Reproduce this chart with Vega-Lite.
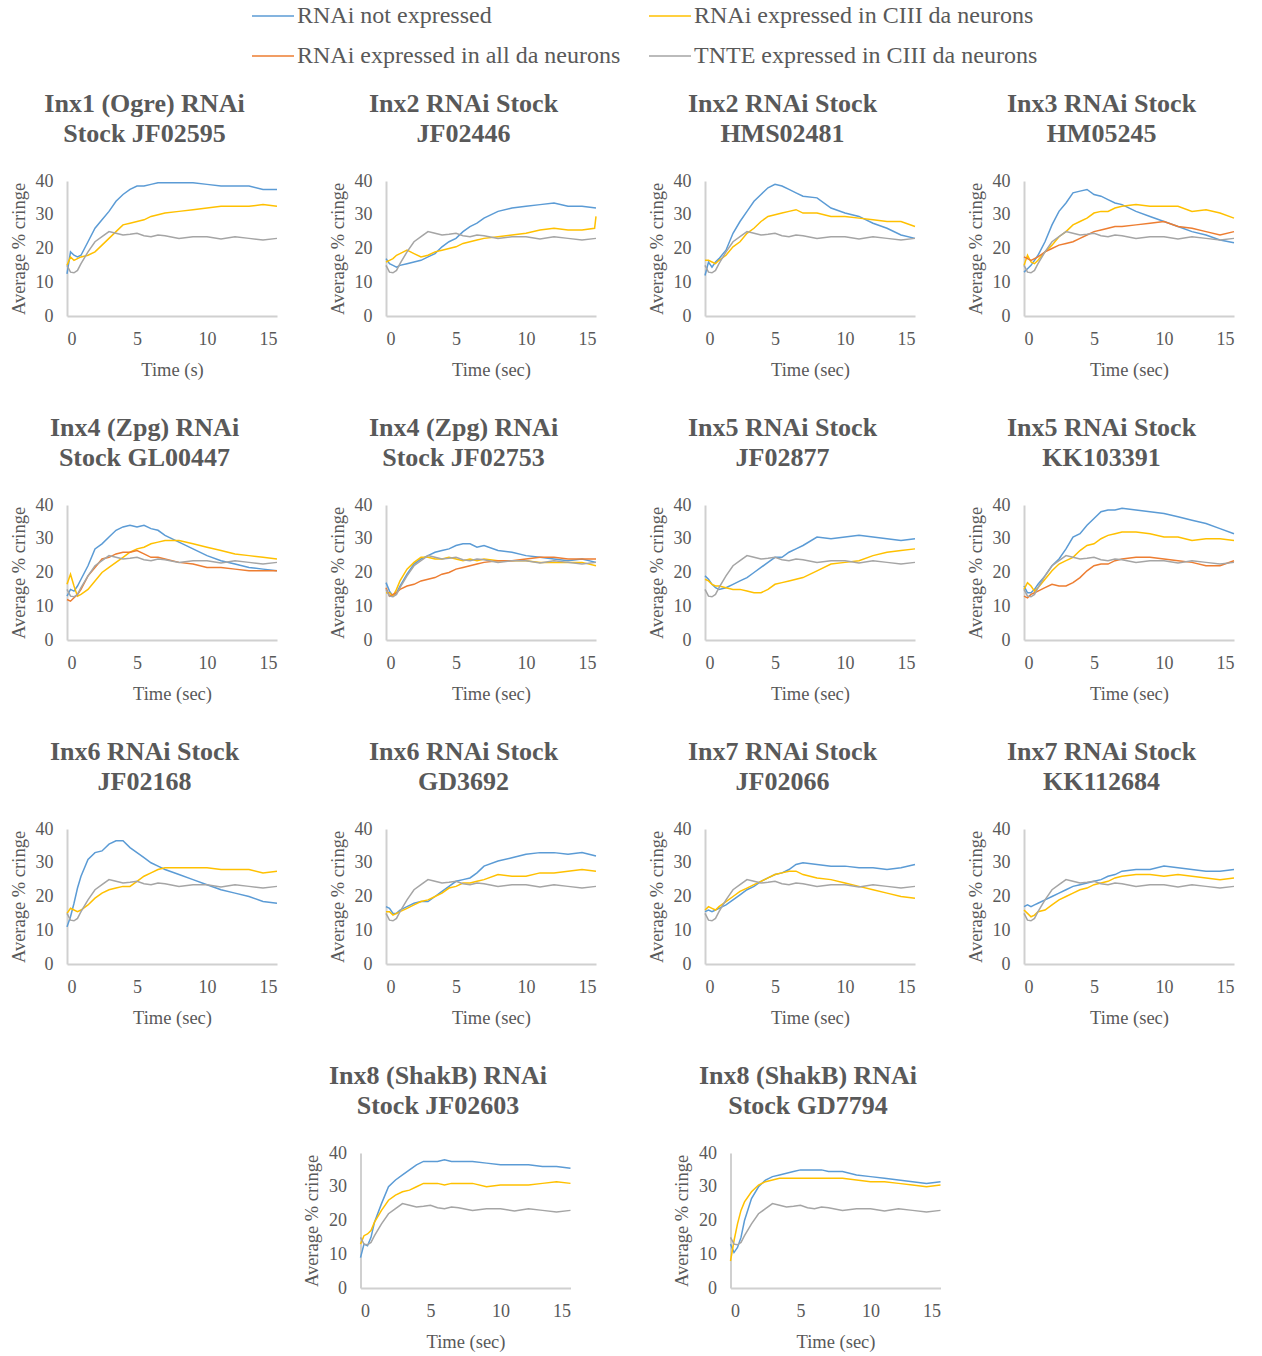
{
"$schema":"https://vega.github.io/schema/vega-lite/v6.json",
"padding":{"left":8,"top":-6,"right":5,"bottom":5},
"background":"white",
"datasets":{
"tnte":[
{"s":"g","t":0,"v":15},{"s":"g","t":0.25,"v":13},{"s":"g","t":0.5,"v":12.8},{"s":"g","t":0.75,"v":13.5},{"s":"g","t":1,"v":15.5},{"s":"g","t":1.5,"v":19},{"s":"g","t":2,"v":22},{"s":"g","t":2.5,"v":23.5},{"s":"g","t":3,"v":25},{"s":"g","t":3.5,"v":24.5},{"s":"g","t":4,"v":24},{"s":"g","t":4.5,"v":24.2},{"s":"g","t":5,"v":24.5},{"s":"g","t":5.5,"v":23.8},{"s":"g","t":6,"v":23.5},{"s":"g","t":6.5,"v":24},{"s":"g","t":7,"v":23.8},{"s":"g","t":8,"v":23},{"s":"g","t":9,"v":23.5},{"s":"g","t":10,"v":23.5},{"s":"g","t":11,"v":22.8},{"s":"g","t":12,"v":23.5},{"s":"g","t":13,"v":23},{"s":"g","t":14,"v":22.5},{"s":"g","t":15,"v":23}
],
"main":[
{"p":1,"s":"b","t":0,"v":12.5},{"p":1,"s":"b","t":0.25,"v":19},{"p":1,"s":"b","t":0.5,"v":18},{"p":1,"s":"b","t":0.75,"v":17.5},{"p":1,"s":"b","t":1,"v":18},{"p":1,"s":"b","t":1.5,"v":22},{"p":1,"s":"b","t":2,"v":26},{"p":1,"s":"b","t":2.5,"v":28.5},{"p":1,"s":"b","t":3,"v":31},{"p":1,"s":"b","t":3.5,"v":34},{"p":1,"s":"b","t":4,"v":36},{"p":1,"s":"b","t":4.5,"v":37.5},{"p":1,"s":"b","t":5,"v":38.5},{"p":1,"s":"b","t":5.5,"v":38.5},{"p":1,"s":"b","t":6,"v":39},{"p":1,"s":"b","t":6.5,"v":39.5},{"p":1,"s":"b","t":7,"v":39.5},{"p":1,"s":"b","t":8,"v":39.5},{"p":1,"s":"b","t":9,"v":39.5},{"p":1,"s":"b","t":10,"v":39},{"p":1,"s":"b","t":11,"v":38.5},{"p":1,"s":"b","t":12,"v":38.5},{"p":1,"s":"b","t":13,"v":38.5},{"p":1,"s":"b","t":14,"v":37.5},{"p":1,"s":"b","t":15,"v":37.5},
{"p":1,"s":"y","t":0,"v":15},{"p":1,"s":"y","t":0.25,"v":17.5},{"p":1,"s":"y","t":0.5,"v":16.5},{"p":1,"s":"y","t":0.75,"v":17},{"p":1,"s":"y","t":1,"v":17.5},{"p":1,"s":"y","t":1.5,"v":18},{"p":1,"s":"y","t":2,"v":19},{"p":1,"s":"y","t":2.5,"v":21},{"p":1,"s":"y","t":3,"v":23},{"p":1,"s":"y","t":3.5,"v":25},{"p":1,"s":"y","t":4,"v":27},{"p":1,"s":"y","t":4.5,"v":27.5},{"p":1,"s":"y","t":5,"v":28},{"p":1,"s":"y","t":5.5,"v":28.5},{"p":1,"s":"y","t":6,"v":29.5},{"p":1,"s":"y","t":6.5,"v":30},{"p":1,"s":"y","t":7,"v":30.5},{"p":1,"s":"y","t":8,"v":31},{"p":1,"s":"y","t":9,"v":31.5},{"p":1,"s":"y","t":10,"v":32},{"p":1,"s":"y","t":11,"v":32.5},{"p":1,"s":"y","t":12,"v":32.5},{"p":1,"s":"y","t":13,"v":32.5},{"p":1,"s":"y","t":14,"v":33},{"p":1,"s":"y","t":15,"v":32.5},
{"p":2,"s":"b","t":0,"v":17},{"p":2,"s":"b","t":0.25,"v":15.5},{"p":2,"s":"b","t":0.5,"v":15},{"p":2,"s":"b","t":0.75,"v":14.5},{"p":2,"s":"b","t":1,"v":15},{"p":2,"s":"b","t":1.5,"v":15.5},{"p":2,"s":"b","t":2,"v":16},{"p":2,"s":"b","t":2.5,"v":16.5},{"p":2,"s":"b","t":3,"v":17.5},{"p":2,"s":"b","t":3.5,"v":18.5},{"p":2,"s":"b","t":4,"v":20.5},{"p":2,"s":"b","t":4.5,"v":22},{"p":2,"s":"b","t":5,"v":23},{"p":2,"s":"b","t":5.5,"v":25},{"p":2,"s":"b","t":6,"v":26.5},{"p":2,"s":"b","t":6.5,"v":27.5},{"p":2,"s":"b","t":7,"v":29},{"p":2,"s":"b","t":8,"v":31},{"p":2,"s":"b","t":9,"v":32},{"p":2,"s":"b","t":10,"v":32.5},{"p":2,"s":"b","t":11,"v":33},{"p":2,"s":"b","t":12,"v":33.5},{"p":2,"s":"b","t":13,"v":32.5},{"p":2,"s":"b","t":14,"v":32.5},{"p":2,"s":"b","t":15,"v":32},
{"p":2,"s":"y","t":0,"v":16},{"p":2,"s":"y","t":0.25,"v":16.5},{"p":2,"s":"y","t":0.5,"v":17},{"p":2,"s":"y","t":0.75,"v":18},{"p":2,"s":"y","t":1,"v":18.5},{"p":2,"s":"y","t":1.5,"v":19.5},{"p":2,"s":"y","t":2,"v":18.5},{"p":2,"s":"y","t":2.5,"v":17.5},{"p":2,"s":"y","t":3,"v":18},{"p":2,"s":"y","t":3.5,"v":19},{"p":2,"s":"y","t":4,"v":19.5},{"p":2,"s":"y","t":4.5,"v":20},{"p":2,"s":"y","t":5,"v":20.5},{"p":2,"s":"y","t":5.5,"v":21.5},{"p":2,"s":"y","t":6,"v":22},{"p":2,"s":"y","t":6.5,"v":22.5},{"p":2,"s":"y","t":7,"v":23},{"p":2,"s":"y","t":8,"v":23.5},{"p":2,"s":"y","t":9,"v":24},{"p":2,"s":"y","t":10,"v":24.5},{"p":2,"s":"y","t":11,"v":25.5},{"p":2,"s":"y","t":12,"v":26},{"p":2,"s":"y","t":13,"v":25.5},{"p":2,"s":"y","t":14,"v":25.5},{"p":2,"s":"y","t":14.9,"v":26},{"p":2,"s":"y","t":15,"v":29.5},
{"p":3,"s":"b","t":0,"v":12},{"p":3,"s":"b","t":0.25,"v":16},{"p":3,"s":"b","t":0.5,"v":14.5},{"p":3,"s":"b","t":0.75,"v":16},{"p":3,"s":"b","t":1,"v":17},{"p":3,"s":"b","t":1.5,"v":19.5},{"p":3,"s":"b","t":2,"v":24.5},{"p":3,"s":"b","t":2.5,"v":28},{"p":3,"s":"b","t":3,"v":31},{"p":3,"s":"b","t":3.5,"v":34},{"p":3,"s":"b","t":4,"v":36},{"p":3,"s":"b","t":4.5,"v":38},{"p":3,"s":"b","t":5,"v":39},{"p":3,"s":"b","t":5.5,"v":38.5},{"p":3,"s":"b","t":6,"v":37.5},{"p":3,"s":"b","t":6.5,"v":36.5},{"p":3,"s":"b","t":7,"v":35.5},{"p":3,"s":"b","t":8,"v":35},{"p":3,"s":"b","t":9,"v":32},{"p":3,"s":"b","t":10,"v":30.5},{"p":3,"s":"b","t":11,"v":29.5},{"p":3,"s":"b","t":12,"v":27.5},{"p":3,"s":"b","t":13,"v":26},{"p":3,"s":"b","t":14,"v":24},{"p":3,"s":"b","t":15,"v":23},
{"p":3,"s":"y","t":0,"v":16.5},{"p":3,"s":"y","t":0.25,"v":16.5},{"p":3,"s":"y","t":0.5,"v":16},{"p":3,"s":"y","t":0.75,"v":15.5},{"p":3,"s":"y","t":1,"v":16.5},{"p":3,"s":"y","t":1.5,"v":18},{"p":3,"s":"y","t":2,"v":20.5},{"p":3,"s":"y","t":2.5,"v":22},{"p":3,"s":"y","t":3,"v":24.5},{"p":3,"s":"y","t":3.5,"v":26},{"p":3,"s":"y","t":4,"v":28},{"p":3,"s":"y","t":4.5,"v":29.5},{"p":3,"s":"y","t":5,"v":30},{"p":3,"s":"y","t":5.5,"v":30.5},{"p":3,"s":"y","t":6,"v":31},{"p":3,"s":"y","t":6.5,"v":31.5},{"p":3,"s":"y","t":7,"v":30.5},{"p":3,"s":"y","t":8,"v":30.5},{"p":3,"s":"y","t":9,"v":29.5},{"p":3,"s":"y","t":10,"v":29.5},{"p":3,"s":"y","t":11,"v":29},{"p":3,"s":"y","t":12,"v":28.5},{"p":3,"s":"y","t":13,"v":28},{"p":3,"s":"y","t":14,"v":28},{"p":3,"s":"y","t":15,"v":26.5},
{"p":4,"s":"b","t":0,"v":13},{"p":4,"s":"b","t":0.25,"v":14},{"p":4,"s":"b","t":0.5,"v":15},{"p":4,"s":"b","t":0.75,"v":16.5},{"p":4,"s":"b","t":1,"v":18},{"p":4,"s":"b","t":1.5,"v":22},{"p":4,"s":"b","t":2,"v":27},{"p":4,"s":"b","t":2.5,"v":31},{"p":4,"s":"b","t":3,"v":33.5},{"p":4,"s":"b","t":3.5,"v":36.5},{"p":4,"s":"b","t":4,"v":37},{"p":4,"s":"b","t":4.5,"v":37.5},{"p":4,"s":"b","t":5,"v":36},{"p":4,"s":"b","t":5.5,"v":35.5},{"p":4,"s":"b","t":6,"v":34.5},{"p":4,"s":"b","t":6.5,"v":33.5},{"p":4,"s":"b","t":7,"v":33},{"p":4,"s":"b","t":8,"v":31},{"p":4,"s":"b","t":9,"v":29.5},{"p":4,"s":"b","t":10,"v":28},{"p":4,"s":"b","t":11,"v":26.5},{"p":4,"s":"b","t":12,"v":25},{"p":4,"s":"b","t":13,"v":24},{"p":4,"s":"b","t":14,"v":22.5},{"p":4,"s":"b","t":15,"v":21.7},
{"p":4,"s":"y","t":0,"v":15},{"p":4,"s":"y","t":0.25,"v":18},{"p":4,"s":"y","t":0.5,"v":16},{"p":4,"s":"y","t":0.75,"v":15.5},{"p":4,"s":"y","t":1,"v":16.5},{"p":4,"s":"y","t":1.5,"v":19},{"p":4,"s":"y","t":2,"v":21},{"p":4,"s":"y","t":2.5,"v":23.5},{"p":4,"s":"y","t":3,"v":25},{"p":4,"s":"y","t":3.5,"v":27},{"p":4,"s":"y","t":4,"v":28},{"p":4,"s":"y","t":4.5,"v":29},{"p":4,"s":"y","t":5,"v":30.5},{"p":4,"s":"y","t":5.5,"v":31},{"p":4,"s":"y","t":6,"v":31},{"p":4,"s":"y","t":6.5,"v":32},{"p":4,"s":"y","t":7,"v":32.5},{"p":4,"s":"y","t":8,"v":33},{"p":4,"s":"y","t":9,"v":32.5},{"p":4,"s":"y","t":10,"v":32.5},{"p":4,"s":"y","t":11,"v":32.5},{"p":4,"s":"y","t":12,"v":31},{"p":4,"s":"y","t":13,"v":31.5},{"p":4,"s":"y","t":14,"v":30.5},{"p":4,"s":"y","t":15,"v":29},
{"p":4,"s":"o","t":0,"v":17.5},{"p":4,"s":"o","t":0.25,"v":17},{"p":4,"s":"o","t":0.5,"v":16.5},{"p":4,"s":"o","t":0.75,"v":17},{"p":4,"s":"o","t":1,"v":17.5},{"p":4,"s":"o","t":1.5,"v":19},{"p":4,"s":"o","t":2,"v":20},{"p":4,"s":"o","t":2.5,"v":21},{"p":4,"s":"o","t":3,"v":21.5},{"p":4,"s":"o","t":3.5,"v":22},{"p":4,"s":"o","t":4,"v":23},{"p":4,"s":"o","t":4.5,"v":24},{"p":4,"s":"o","t":5,"v":25},{"p":4,"s":"o","t":5.5,"v":25.5},{"p":4,"s":"o","t":6,"v":26},{"p":4,"s":"o","t":6.5,"v":26.5},{"p":4,"s":"o","t":7,"v":26.5},{"p":4,"s":"o","t":8,"v":27},{"p":4,"s":"o","t":9,"v":27.5},{"p":4,"s":"o","t":10,"v":28},{"p":4,"s":"o","t":11,"v":26.5},{"p":4,"s":"o","t":12,"v":26},{"p":4,"s":"o","t":13,"v":25},{"p":4,"s":"o","t":14,"v":24},{"p":4,"s":"o","t":15,"v":25},
{"p":5,"s":"b","t":0,"v":13},{"p":5,"s":"b","t":0.25,"v":15},{"p":5,"s":"b","t":0.5,"v":14.5},{"p":5,"s":"b","t":0.75,"v":16},{"p":5,"s":"b","t":1,"v":18},{"p":5,"s":"b","t":1.5,"v":22},{"p":5,"s":"b","t":2,"v":27},{"p":5,"s":"b","t":2.5,"v":28.5},{"p":5,"s":"b","t":3,"v":30.5},{"p":5,"s":"b","t":3.5,"v":32.5},{"p":5,"s":"b","t":4,"v":33.5},{"p":5,"s":"b","t":4.5,"v":34},{"p":5,"s":"b","t":5,"v":33.5},{"p":5,"s":"b","t":5.5,"v":34},{"p":5,"s":"b","t":6,"v":33},{"p":5,"s":"b","t":6.5,"v":32.5},{"p":5,"s":"b","t":7,"v":31},{"p":5,"s":"b","t":8,"v":29},{"p":5,"s":"b","t":9,"v":27},{"p":5,"s":"b","t":10,"v":25},{"p":5,"s":"b","t":11,"v":23.5},{"p":5,"s":"b","t":12,"v":22.5},{"p":5,"s":"b","t":13,"v":21.5},{"p":5,"s":"b","t":14,"v":21},{"p":5,"s":"b","t":15,"v":20.5},
{"p":5,"s":"y","t":0,"v":16.5},{"p":5,"s":"y","t":0.25,"v":19.5},{"p":5,"s":"y","t":0.5,"v":16},{"p":5,"s":"y","t":0.75,"v":13},{"p":5,"s":"y","t":1,"v":13.5},{"p":5,"s":"y","t":1.5,"v":15},{"p":5,"s":"y","t":2,"v":17.5},{"p":5,"s":"y","t":2.5,"v":20},{"p":5,"s":"y","t":3,"v":21.5},{"p":5,"s":"y","t":3.5,"v":23},{"p":5,"s":"y","t":4,"v":24.5},{"p":5,"s":"y","t":4.5,"v":26},{"p":5,"s":"y","t":5,"v":27},{"p":5,"s":"y","t":5.5,"v":27.5},{"p":5,"s":"y","t":6,"v":28.5},{"p":5,"s":"y","t":6.5,"v":29},{"p":5,"s":"y","t":7,"v":29.5},{"p":5,"s":"y","t":8,"v":29.5},{"p":5,"s":"y","t":9,"v":28.5},{"p":5,"s":"y","t":10,"v":27.5},{"p":5,"s":"y","t":11,"v":26.5},{"p":5,"s":"y","t":12,"v":25.5},{"p":5,"s":"y","t":13,"v":25},{"p":5,"s":"y","t":14,"v":24.5},{"p":5,"s":"y","t":15,"v":24},
{"p":5,"s":"o","t":0,"v":12},{"p":5,"s":"o","t":0.25,"v":11.5},{"p":5,"s":"o","t":0.5,"v":12.5},{"p":5,"s":"o","t":0.75,"v":13.5},{"p":5,"s":"o","t":1,"v":15},{"p":5,"s":"o","t":1.5,"v":19},{"p":5,"s":"o","t":2,"v":21.5},{"p":5,"s":"o","t":2.5,"v":24},{"p":5,"s":"o","t":3,"v":24.5},{"p":5,"s":"o","t":3.5,"v":25.5},{"p":5,"s":"o","t":4,"v":26},{"p":5,"s":"o","t":4.5,"v":26},{"p":5,"s":"o","t":5,"v":26.5},{"p":5,"s":"o","t":5.5,"v":25.5},{"p":5,"s":"o","t":6,"v":24.5},{"p":5,"s":"o","t":6.5,"v":24.5},{"p":5,"s":"o","t":7,"v":24},{"p":5,"s":"o","t":8,"v":23},{"p":5,"s":"o","t":9,"v":22.5},{"p":5,"s":"o","t":10,"v":21.5},{"p":5,"s":"o","t":11,"v":21.5},{"p":5,"s":"o","t":12,"v":21},{"p":5,"s":"o","t":13,"v":20.5},{"p":5,"s":"o","t":14,"v":20.5},{"p":5,"s":"o","t":15,"v":20.5},
{"p":6,"s":"b","t":0,"v":17},{"p":6,"s":"b","t":0.25,"v":14.5},{"p":6,"s":"b","t":0.5,"v":13},{"p":6,"s":"b","t":0.75,"v":14},{"p":6,"s":"b","t":1,"v":16},{"p":6,"s":"b","t":1.5,"v":19.5},{"p":6,"s":"b","t":2,"v":22.5},{"p":6,"s":"b","t":2.5,"v":24},{"p":6,"s":"b","t":3,"v":25},{"p":6,"s":"b","t":3.5,"v":26},{"p":6,"s":"b","t":4,"v":26.5},{"p":6,"s":"b","t":4.5,"v":27},{"p":6,"s":"b","t":5,"v":28},{"p":6,"s":"b","t":5.5,"v":28.5},{"p":6,"s":"b","t":6,"v":28.5},{"p":6,"s":"b","t":6.5,"v":27.5},{"p":6,"s":"b","t":7,"v":28},{"p":6,"s":"b","t":8,"v":26.5},{"p":6,"s":"b","t":9,"v":26},{"p":6,"s":"b","t":10,"v":25},{"p":6,"s":"b","t":11,"v":24.5},{"p":6,"s":"b","t":12,"v":24},{"p":6,"s":"b","t":13,"v":23.5},{"p":6,"s":"b","t":14,"v":24},{"p":6,"s":"b","t":15,"v":23},
{"p":6,"s":"y","t":0,"v":14},{"p":6,"s":"y","t":0.25,"v":14},{"p":6,"s":"y","t":0.5,"v":13},{"p":6,"s":"y","t":0.75,"v":15},{"p":6,"s":"y","t":1,"v":17.5},{"p":6,"s":"y","t":1.5,"v":21},{"p":6,"s":"y","t":2,"v":23},{"p":6,"s":"y","t":2.5,"v":24.5},{"p":6,"s":"y","t":3,"v":24.5},{"p":6,"s":"y","t":3.5,"v":24},{"p":6,"s":"y","t":4,"v":24},{"p":6,"s":"y","t":4.5,"v":24.5},{"p":6,"s":"y","t":5,"v":24},{"p":6,"s":"y","t":5.5,"v":23.5},{"p":6,"s":"y","t":6,"v":24},{"p":6,"s":"y","t":6.5,"v":23.5},{"p":6,"s":"y","t":7,"v":24},{"p":6,"s":"y","t":8,"v":23.5},{"p":6,"s":"y","t":9,"v":23.5},{"p":6,"s":"y","t":10,"v":23.5},{"p":6,"s":"y","t":11,"v":23},{"p":6,"s":"y","t":12,"v":23},{"p":6,"s":"y","t":13,"v":23},{"p":6,"s":"y","t":14,"v":23},{"p":6,"s":"y","t":15,"v":22},
{"p":6,"s":"o","t":0,"v":15.5},{"p":6,"s":"o","t":0.25,"v":13},{"p":6,"s":"o","t":0.5,"v":13.5},{"p":6,"s":"o","t":0.75,"v":14},{"p":6,"s":"o","t":1,"v":15},{"p":6,"s":"o","t":1.5,"v":16},{"p":6,"s":"o","t":2,"v":16.5},{"p":6,"s":"o","t":2.5,"v":17.5},{"p":6,"s":"o","t":3,"v":18},{"p":6,"s":"o","t":3.5,"v":18.5},{"p":6,"s":"o","t":4,"v":19.5},{"p":6,"s":"o","t":4.5,"v":20},{"p":6,"s":"o","t":5,"v":21},{"p":6,"s":"o","t":5.5,"v":21.5},{"p":6,"s":"o","t":6,"v":22},{"p":6,"s":"o","t":6.5,"v":22.5},{"p":6,"s":"o","t":7,"v":23},{"p":6,"s":"o","t":8,"v":23.5},{"p":6,"s":"o","t":9,"v":23.5},{"p":6,"s":"o","t":10,"v":24},{"p":6,"s":"o","t":11,"v":24.5},{"p":6,"s":"o","t":12,"v":24.5},{"p":6,"s":"o","t":13,"v":24},{"p":6,"s":"o","t":14,"v":24},{"p":6,"s":"o","t":15,"v":24},
{"p":7,"s":"b","t":0,"v":19},{"p":7,"s":"b","t":0.25,"v":18},{"p":7,"s":"b","t":0.5,"v":16.5},{"p":7,"s":"b","t":0.75,"v":15.5},{"p":7,"s":"b","t":1,"v":15},{"p":7,"s":"b","t":1.5,"v":15.5},{"p":7,"s":"b","t":2,"v":16.5},{"p":7,"s":"b","t":2.5,"v":17.5},{"p":7,"s":"b","t":3,"v":18.5},{"p":7,"s":"b","t":3.5,"v":20},{"p":7,"s":"b","t":4,"v":21.5},{"p":7,"s":"b","t":4.5,"v":23},{"p":7,"s":"b","t":5,"v":24.5},{"p":7,"s":"b","t":5.5,"v":24.5},{"p":7,"s":"b","t":6,"v":26},{"p":7,"s":"b","t":6.5,"v":27},{"p":7,"s":"b","t":7,"v":28},{"p":7,"s":"b","t":8,"v":30.5},{"p":7,"s":"b","t":9,"v":30},{"p":7,"s":"b","t":10,"v":30.5},{"p":7,"s":"b","t":11,"v":31},{"p":7,"s":"b","t":12,"v":30.5},{"p":7,"s":"b","t":13,"v":30},{"p":7,"s":"b","t":14,"v":29.5},{"p":7,"s":"b","t":15,"v":30},
{"p":7,"s":"y","t":0,"v":18},{"p":7,"s":"y","t":0.25,"v":17.5},{"p":7,"s":"y","t":0.5,"v":16.5},{"p":7,"s":"y","t":0.75,"v":16},{"p":7,"s":"y","t":1,"v":16},{"p":7,"s":"y","t":1.5,"v":15.5},{"p":7,"s":"y","t":2,"v":15},{"p":7,"s":"y","t":2.5,"v":15},{"p":7,"s":"y","t":3,"v":14.5},{"p":7,"s":"y","t":3.5,"v":14},{"p":7,"s":"y","t":4,"v":14},{"p":7,"s":"y","t":4.5,"v":15},{"p":7,"s":"y","t":5,"v":16.5},{"p":7,"s":"y","t":5.5,"v":17},{"p":7,"s":"y","t":6,"v":17.5},{"p":7,"s":"y","t":6.5,"v":18},{"p":7,"s":"y","t":7,"v":18.5},{"p":7,"s":"y","t":8,"v":20.5},{"p":7,"s":"y","t":9,"v":22.5},{"p":7,"s":"y","t":10,"v":23},{"p":7,"s":"y","t":11,"v":23.5},{"p":7,"s":"y","t":12,"v":25},{"p":7,"s":"y","t":13,"v":26},{"p":7,"s":"y","t":14,"v":26.5},{"p":7,"s":"y","t":15,"v":27},
{"p":8,"s":"b","t":0,"v":16},{"p":8,"s":"b","t":0.25,"v":14},{"p":8,"s":"b","t":0.5,"v":14},{"p":8,"s":"b","t":0.75,"v":15},{"p":8,"s":"b","t":1,"v":16.5},{"p":8,"s":"b","t":1.5,"v":19},{"p":8,"s":"b","t":2,"v":22},{"p":8,"s":"b","t":2.5,"v":24},{"p":8,"s":"b","t":3,"v":27},{"p":8,"s":"b","t":3.5,"v":30.5},{"p":8,"s":"b","t":4,"v":31.5},{"p":8,"s":"b","t":4.5,"v":34},{"p":8,"s":"b","t":5,"v":36},{"p":8,"s":"b","t":5.5,"v":38},{"p":8,"s":"b","t":6,"v":38.5},{"p":8,"s":"b","t":6.5,"v":38.5},{"p":8,"s":"b","t":7,"v":39},{"p":8,"s":"b","t":8,"v":38.5},{"p":8,"s":"b","t":9,"v":38},{"p":8,"s":"b","t":10,"v":37.5},{"p":8,"s":"b","t":11,"v":36.5},{"p":8,"s":"b","t":12,"v":35.5},{"p":8,"s":"b","t":13,"v":34.5},{"p":8,"s":"b","t":14,"v":33},{"p":8,"s":"b","t":15,"v":31.5},
{"p":8,"s":"y","t":0,"v":15},{"p":8,"s":"y","t":0.25,"v":17},{"p":8,"s":"y","t":0.5,"v":16},{"p":8,"s":"y","t":0.75,"v":14.5},{"p":8,"s":"y","t":1,"v":15.5},{"p":8,"s":"y","t":1.5,"v":18},{"p":8,"s":"y","t":2,"v":20.5},{"p":8,"s":"y","t":2.5,"v":22.5},{"p":8,"s":"y","t":3,"v":23.5},{"p":8,"s":"y","t":3.5,"v":24.5},{"p":8,"s":"y","t":4,"v":26.5},{"p":8,"s":"y","t":4.5,"v":28},{"p":8,"s":"y","t":5,"v":28.5},{"p":8,"s":"y","t":5.5,"v":30},{"p":8,"s":"y","t":6,"v":31},{"p":8,"s":"y","t":6.5,"v":31.5},{"p":8,"s":"y","t":7,"v":32},{"p":8,"s":"y","t":8,"v":32},{"p":8,"s":"y","t":9,"v":31.5},{"p":8,"s":"y","t":10,"v":30.5},{"p":8,"s":"y","t":11,"v":30.5},{"p":8,"s":"y","t":12,"v":29.5},{"p":8,"s":"y","t":13,"v":30},{"p":8,"s":"y","t":14,"v":30},{"p":8,"s":"y","t":15,"v":29.5},
{"p":8,"s":"o","t":0,"v":13},{"p":8,"s":"o","t":0.25,"v":12.5},{"p":8,"s":"o","t":0.5,"v":13.5},{"p":8,"s":"o","t":0.75,"v":14},{"p":8,"s":"o","t":1,"v":14.5},{"p":8,"s":"o","t":1.5,"v":15.5},{"p":8,"s":"o","t":2,"v":16.5},{"p":8,"s":"o","t":2.5,"v":16},{"p":8,"s":"o","t":3,"v":16},{"p":8,"s":"o","t":3.5,"v":17},{"p":8,"s":"o","t":4,"v":18.5},{"p":8,"s":"o","t":4.5,"v":20.5},{"p":8,"s":"o","t":5,"v":22},{"p":8,"s":"o","t":5.5,"v":22.5},{"p":8,"s":"o","t":6,"v":22.5},{"p":8,"s":"o","t":6.5,"v":23.5},{"p":8,"s":"o","t":7,"v":24},{"p":8,"s":"o","t":8,"v":24.5},{"p":8,"s":"o","t":9,"v":24.5},{"p":8,"s":"o","t":10,"v":24},{"p":8,"s":"o","t":11,"v":23.5},{"p":8,"s":"o","t":12,"v":23},{"p":8,"s":"o","t":13,"v":22},{"p":8,"s":"o","t":14,"v":22},{"p":8,"s":"o","t":15,"v":23.5},
{"p":9,"s":"b","t":0,"v":11},{"p":9,"s":"b","t":0.25,"v":14},{"p":9,"s":"b","t":0.5,"v":18},{"p":9,"s":"b","t":0.75,"v":22.5},{"p":9,"s":"b","t":1,"v":26},{"p":9,"s":"b","t":1.5,"v":31},{"p":9,"s":"b","t":2,"v":33},{"p":9,"s":"b","t":2.5,"v":33.5},{"p":9,"s":"b","t":3,"v":35.5},{"p":9,"s":"b","t":3.5,"v":36.5},{"p":9,"s":"b","t":4,"v":36.5},{"p":9,"s":"b","t":4.5,"v":34.5},{"p":9,"s":"b","t":5,"v":33},{"p":9,"s":"b","t":5.5,"v":31.5},{"p":9,"s":"b","t":6,"v":30},{"p":9,"s":"b","t":6.5,"v":29},{"p":9,"s":"b","t":7,"v":28},{"p":9,"s":"b","t":8,"v":26.5},{"p":9,"s":"b","t":9,"v":25},{"p":9,"s":"b","t":10,"v":23.5},{"p":9,"s":"b","t":11,"v":22},{"p":9,"s":"b","t":12,"v":21},{"p":9,"s":"b","t":13,"v":20},{"p":9,"s":"b","t":14,"v":18.5},{"p":9,"s":"b","t":15,"v":18},
{"p":9,"s":"y","t":0,"v":15},{"p":9,"s":"y","t":0.25,"v":16.5},{"p":9,"s":"y","t":0.5,"v":16},{"p":9,"s":"y","t":0.75,"v":15.5},{"p":9,"s":"y","t":1,"v":16},{"p":9,"s":"y","t":1.5,"v":17.5},{"p":9,"s":"y","t":2,"v":19.5},{"p":9,"s":"y","t":2.5,"v":21},{"p":9,"s":"y","t":3,"v":22},{"p":9,"s":"y","t":3.5,"v":22.5},{"p":9,"s":"y","t":4,"v":23},{"p":9,"s":"y","t":4.5,"v":23},{"p":9,"s":"y","t":5,"v":24.5},{"p":9,"s":"y","t":5.5,"v":26},{"p":9,"s":"y","t":6,"v":27},{"p":9,"s":"y","t":6.5,"v":28},{"p":9,"s":"y","t":7,"v":28.5},{"p":9,"s":"y","t":8,"v":28.5},{"p":9,"s":"y","t":9,"v":28.5},{"p":9,"s":"y","t":10,"v":28.5},{"p":9,"s":"y","t":11,"v":28},{"p":9,"s":"y","t":12,"v":28},{"p":9,"s":"y","t":13,"v":28},{"p":9,"s":"y","t":14,"v":27},{"p":9,"s":"y","t":15,"v":27.5},
{"p":10,"s":"b","t":0,"v":17},{"p":10,"s":"b","t":0.25,"v":16.5},{"p":10,"s":"b","t":0.5,"v":15},{"p":10,"s":"b","t":0.75,"v":15},{"p":10,"s":"b","t":1,"v":16},{"p":10,"s":"b","t":1.5,"v":17},{"p":10,"s":"b","t":2,"v":18},{"p":10,"s":"b","t":2.5,"v":18.5},{"p":10,"s":"b","t":3,"v":18.5},{"p":10,"s":"b","t":3.5,"v":20},{"p":10,"s":"b","t":4,"v":21.5},{"p":10,"s":"b","t":4.5,"v":23},{"p":10,"s":"b","t":5,"v":24.5},{"p":10,"s":"b","t":5.5,"v":25},{"p":10,"s":"b","t":6,"v":25.5},{"p":10,"s":"b","t":6.5,"v":27},{"p":10,"s":"b","t":7,"v":29},{"p":10,"s":"b","t":8,"v":30.5},{"p":10,"s":"b","t":9,"v":31.5},{"p":10,"s":"b","t":10,"v":32.5},{"p":10,"s":"b","t":11,"v":33},{"p":10,"s":"b","t":12,"v":33},{"p":10,"s":"b","t":13,"v":32.5},{"p":10,"s":"b","t":14,"v":33},{"p":10,"s":"b","t":15,"v":32},
{"p":10,"s":"y","t":0,"v":15.5},{"p":10,"s":"y","t":0.25,"v":15.5},{"p":10,"s":"y","t":0.5,"v":14.5},{"p":10,"s":"y","t":0.75,"v":15},{"p":10,"s":"y","t":1,"v":15.5},{"p":10,"s":"y","t":1.5,"v":16.5},{"p":10,"s":"y","t":2,"v":17.5},{"p":10,"s":"y","t":2.5,"v":18.5},{"p":10,"s":"y","t":3,"v":19},{"p":10,"s":"y","t":3.5,"v":20},{"p":10,"s":"y","t":4,"v":21},{"p":10,"s":"y","t":4.5,"v":22.5},{"p":10,"s":"y","t":5,"v":23},{"p":10,"s":"y","t":5.5,"v":24},{"p":10,"s":"y","t":6,"v":24},{"p":10,"s":"y","t":6.5,"v":24.5},{"p":10,"s":"y","t":7,"v":25},{"p":10,"s":"y","t":8,"v":26.5},{"p":10,"s":"y","t":9,"v":26},{"p":10,"s":"y","t":10,"v":26},{"p":10,"s":"y","t":11,"v":27},{"p":10,"s":"y","t":12,"v":27},{"p":10,"s":"y","t":13,"v":27.5},{"p":10,"s":"y","t":14,"v":28},{"p":10,"s":"y","t":15,"v":27.5},
{"p":11,"s":"b","t":0,"v":15.5},{"p":11,"s":"b","t":0.25,"v":16},{"p":11,"s":"b","t":0.5,"v":15.5},{"p":11,"s":"b","t":0.75,"v":16},{"p":11,"s":"b","t":1,"v":16.5},{"p":11,"s":"b","t":1.5,"v":17.5},{"p":11,"s":"b","t":2,"v":19},{"p":11,"s":"b","t":2.5,"v":20.5},{"p":11,"s":"b","t":3,"v":22},{"p":11,"s":"b","t":3.5,"v":23},{"p":11,"s":"b","t":4,"v":24.5},{"p":11,"s":"b","t":4.5,"v":25.5},{"p":11,"s":"b","t":5,"v":26.5},{"p":11,"s":"b","t":5.5,"v":27},{"p":11,"s":"b","t":6,"v":28},{"p":11,"s":"b","t":6.5,"v":29.5},{"p":11,"s":"b","t":7,"v":30},{"p":11,"s":"b","t":8,"v":29.5},{"p":11,"s":"b","t":9,"v":29},{"p":11,"s":"b","t":10,"v":29},{"p":11,"s":"b","t":11,"v":28.5},{"p":11,"s":"b","t":12,"v":28.5},{"p":11,"s":"b","t":13,"v":28},{"p":11,"s":"b","t":14,"v":28.5},{"p":11,"s":"b","t":15,"v":29.5},
{"p":11,"s":"y","t":0,"v":16},{"p":11,"s":"y","t":0.25,"v":17},{"p":11,"s":"y","t":0.5,"v":16.5},{"p":11,"s":"y","t":0.75,"v":16},{"p":11,"s":"y","t":1,"v":17},{"p":11,"s":"y","t":1.5,"v":18.5},{"p":11,"s":"y","t":2,"v":20},{"p":11,"s":"y","t":2.5,"v":21.5},{"p":11,"s":"y","t":3,"v":22.5},{"p":11,"s":"y","t":3.5,"v":23.5},{"p":11,"s":"y","t":4,"v":24.5},{"p":11,"s":"y","t":4.5,"v":25.5},{"p":11,"s":"y","t":5,"v":26.5},{"p":11,"s":"y","t":5.5,"v":27},{"p":11,"s":"y","t":6,"v":27.5},{"p":11,"s":"y","t":6.5,"v":27.5},{"p":11,"s":"y","t":7,"v":26.5},{"p":11,"s":"y","t":8,"v":25.5},{"p":11,"s":"y","t":9,"v":25},{"p":11,"s":"y","t":10,"v":24},{"p":11,"s":"y","t":11,"v":23},{"p":11,"s":"y","t":12,"v":22},{"p":11,"s":"y","t":13,"v":21},{"p":11,"s":"y","t":14,"v":20},{"p":11,"s":"y","t":15,"v":19.5},
{"p":12,"s":"b","t":0,"v":17},{"p":12,"s":"b","t":0.25,"v":17.5},{"p":12,"s":"b","t":0.5,"v":17},{"p":12,"s":"b","t":0.75,"v":17.5},{"p":12,"s":"b","t":1,"v":18},{"p":12,"s":"b","t":1.5,"v":19},{"p":12,"s":"b","t":2,"v":20},{"p":12,"s":"b","t":2.5,"v":21},{"p":12,"s":"b","t":3,"v":22},{"p":12,"s":"b","t":3.5,"v":23},{"p":12,"s":"b","t":4,"v":23.5},{"p":12,"s":"b","t":4.5,"v":24},{"p":12,"s":"b","t":5,"v":24.5},{"p":12,"s":"b","t":5.5,"v":25},{"p":12,"s":"b","t":6,"v":26},{"p":12,"s":"b","t":6.5,"v":26.5},{"p":12,"s":"b","t":7,"v":27.5},{"p":12,"s":"b","t":8,"v":28},{"p":12,"s":"b","t":9,"v":28},{"p":12,"s":"b","t":10,"v":29},{"p":12,"s":"b","t":11,"v":28.5},{"p":12,"s":"b","t":12,"v":28},{"p":12,"s":"b","t":13,"v":27.5},{"p":12,"s":"b","t":14,"v":27.5},{"p":12,"s":"b","t":15,"v":28},
{"p":12,"s":"y","t":0,"v":16},{"p":12,"s":"y","t":0.25,"v":15},{"p":12,"s":"y","t":0.5,"v":14},{"p":12,"s":"y","t":0.75,"v":14.5},{"p":12,"s":"y","t":1,"v":15.5},{"p":12,"s":"y","t":1.5,"v":16},{"p":12,"s":"y","t":2,"v":17.5},{"p":12,"s":"y","t":2.5,"v":19},{"p":12,"s":"y","t":3,"v":20},{"p":12,"s":"y","t":3.5,"v":21},{"p":12,"s":"y","t":4,"v":22},{"p":12,"s":"y","t":4.5,"v":22.5},{"p":12,"s":"y","t":5,"v":23.5},{"p":12,"s":"y","t":5.5,"v":24},{"p":12,"s":"y","t":6,"v":24.5},{"p":12,"s":"y","t":6.5,"v":25.5},{"p":12,"s":"y","t":7,"v":26},{"p":12,"s":"y","t":8,"v":26.5},{"p":12,"s":"y","t":9,"v":26.5},{"p":12,"s":"y","t":10,"v":26},{"p":12,"s":"y","t":11,"v":26.5},{"p":12,"s":"y","t":12,"v":26},{"p":12,"s":"y","t":13,"v":25.5},{"p":12,"s":"y","t":14,"v":25},{"p":12,"s":"y","t":15,"v":25.5},
{"p":13,"s":"b","t":0,"v":9},{"p":13,"s":"b","t":0.25,"v":13},{"p":13,"s":"b","t":0.5,"v":12.5},{"p":13,"s":"b","t":0.75,"v":15},{"p":13,"s":"b","t":1,"v":19.5},{"p":13,"s":"b","t":1.5,"v":25},{"p":13,"s":"b","t":2,"v":30},{"p":13,"s":"b","t":2.5,"v":32},{"p":13,"s":"b","t":3,"v":33.5},{"p":13,"s":"b","t":3.5,"v":35},{"p":13,"s":"b","t":4,"v":36.5},{"p":13,"s":"b","t":4.5,"v":37.5},{"p":13,"s":"b","t":5,"v":37.5},{"p":13,"s":"b","t":5.5,"v":37.5},{"p":13,"s":"b","t":6,"v":38},{"p":13,"s":"b","t":6.5,"v":37.5},{"p":13,"s":"b","t":7,"v":37.5},{"p":13,"s":"b","t":8,"v":37.5},{"p":13,"s":"b","t":9,"v":37},{"p":13,"s":"b","t":10,"v":36.5},{"p":13,"s":"b","t":11,"v":36.5},{"p":13,"s":"b","t":12,"v":36.5},{"p":13,"s":"b","t":13,"v":36},{"p":13,"s":"b","t":14,"v":36},{"p":13,"s":"b","t":15,"v":35.5},
{"p":13,"s":"y","t":0,"v":13},{"p":13,"s":"y","t":0.25,"v":15.5},{"p":13,"s":"y","t":0.5,"v":16},{"p":13,"s":"y","t":0.75,"v":17},{"p":13,"s":"y","t":1,"v":19.5},{"p":13,"s":"y","t":1.5,"v":23},{"p":13,"s":"y","t":2,"v":26},{"p":13,"s":"y","t":2.5,"v":27.5},{"p":13,"s":"y","t":3,"v":28.5},{"p":13,"s":"y","t":3.5,"v":29},{"p":13,"s":"y","t":4,"v":30},{"p":13,"s":"y","t":4.5,"v":31},{"p":13,"s":"y","t":5,"v":31},{"p":13,"s":"y","t":5.5,"v":31},{"p":13,"s":"y","t":6,"v":30.5},{"p":13,"s":"y","t":6.5,"v":31},{"p":13,"s":"y","t":7,"v":31},{"p":13,"s":"y","t":8,"v":31},{"p":13,"s":"y","t":9,"v":30},{"p":13,"s":"y","t":10,"v":30.5},{"p":13,"s":"y","t":11,"v":30.5},{"p":13,"s":"y","t":12,"v":30.5},{"p":13,"s":"y","t":13,"v":31},{"p":13,"s":"y","t":14,"v":31.5},{"p":13,"s":"y","t":15,"v":31},
{"p":14,"s":"b","t":0,"v":13},{"p":14,"s":"b","t":0.25,"v":10.5},{"p":14,"s":"b","t":0.5,"v":12},{"p":14,"s":"b","t":0.75,"v":15},{"p":14,"s":"b","t":1,"v":20},{"p":14,"s":"b","t":1.5,"v":26.5},{"p":14,"s":"b","t":2,"v":30},{"p":14,"s":"b","t":2.5,"v":32},{"p":14,"s":"b","t":3,"v":33},{"p":14,"s":"b","t":3.5,"v":33.5},{"p":14,"s":"b","t":4,"v":34},{"p":14,"s":"b","t":4.5,"v":34.5},{"p":14,"s":"b","t":5,"v":35},{"p":14,"s":"b","t":5.5,"v":35},{"p":14,"s":"b","t":6,"v":35},{"p":14,"s":"b","t":6.5,"v":35},{"p":14,"s":"b","t":7,"v":34.5},{"p":14,"s":"b","t":8,"v":34.5},{"p":14,"s":"b","t":9,"v":33.5},{"p":14,"s":"b","t":10,"v":33},{"p":14,"s":"b","t":11,"v":32.5},{"p":14,"s":"b","t":12,"v":32},{"p":14,"s":"b","t":13,"v":31.5},{"p":14,"s":"b","t":14,"v":31},{"p":14,"s":"b","t":15,"v":31.5},
{"p":14,"s":"y","t":0,"v":8},{"p":14,"s":"y","t":0.25,"v":14},{"p":14,"s":"y","t":0.5,"v":19},{"p":14,"s":"y","t":0.75,"v":23},{"p":14,"s":"y","t":1,"v":25.5},{"p":14,"s":"y","t":1.5,"v":28.5},{"p":14,"s":"y","t":2,"v":30.5},{"p":14,"s":"y","t":2.5,"v":31.5},{"p":14,"s":"y","t":3,"v":32},{"p":14,"s":"y","t":3.5,"v":32.5},{"p":14,"s":"y","t":4,"v":32.5},{"p":14,"s":"y","t":4.5,"v":32.5},{"p":14,"s":"y","t":5,"v":32.5},{"p":14,"s":"y","t":5.5,"v":32.5},{"p":14,"s":"y","t":6,"v":32.5},{"p":14,"s":"y","t":6.5,"v":32.5},{"p":14,"s":"y","t":7,"v":32.5},{"p":14,"s":"y","t":8,"v":32.5},{"p":14,"s":"y","t":9,"v":32},{"p":14,"s":"y","t":10,"v":31.5},{"p":14,"s":"y","t":11,"v":31.5},{"p":14,"s":"y","t":12,"v":31},{"p":14,"s":"y","t":13,"v":30.5},{"p":14,"s":"y","t":14,"v":30},{"p":14,"s":"y","t":15,"v":30.5}
]
},
"vconcat":[
{"hconcat":[
{"title":{"text":["Inx1 (Ogre) RNAi","Stock JF02595"]},"width":210,"height":135,"encoding":{"x":{"field":"t","type":"quantitative","scale":{"domain":[0,15]},"axis":{"values":[0,5,10,15],"title":"Time (s)"}},"y":{"field":"v","type":"quantitative","scale":{"domain":[0,40]},"axis":{"values":[0,10,20,30,40],"title":"Average % cringe"}},"color":{"field":"s","type":"nominal","scale":{"domain":["b","o","y","g"],"range":["#5B9BD5","#ED7D31","#FFC000","#A5A5A5"]},"legend":{"orient":"none","legendX":184,"legendY":-187,"columns":2,"title":null,"symbolType":"stroke","symbolSize":1764,"symbolStrokeWidth":3,"labelFontSize":24,"labelFont":"Liberation Serif","labelColor":"#595959","columnPadding":25,"rowPadding":6,"labelOffset":2,"labelLimit":0,"labelExpr":"datum.label=='b'?'RNAi not expressed':datum.label=='y'?'RNAi expressed in CIII da neurons':datum.label=='o'?'RNAi expressed in all da neurons':'TNTE expressed in CIII da neurons'"}}},"layer":[{"data":{"name":"main"},"transform":[{"filter":"datum.p==1"}],"mark":"line"},{"data":{"name":"tnte"},"mark":"line"}]},
{"title":{"text":["Inx2 RNAi Stock","JF02446"]},"width":210,"height":135,"encoding":{"x":{"field":"t","type":"quantitative","scale":{"domain":[0,15]},"axis":{"values":[0,5,10,15],"title":"Time (sec)"}},"y":{"field":"v","type":"quantitative","scale":{"domain":[0,40]},"axis":{"values":[0,10,20,30,40],"title":"Average % cringe"}},"color":{"field":"s","type":"nominal","scale":{"domain":["b","o","y","g"],"range":["#5B9BD5","#ED7D31","#FFC000","#A5A5A5"]}}},"layer":[{"data":{"name":"main"},"transform":[{"filter":"datum.p==2"}],"mark":"line"},{"data":{"name":"tnte"},"mark":"line"}]},
{"title":{"text":["Inx2 RNAi Stock","HMS02481"]},"width":210,"height":135,"encoding":{"x":{"field":"t","type":"quantitative","scale":{"domain":[0,15]},"axis":{"values":[0,5,10,15],"title":"Time (sec)"}},"y":{"field":"v","type":"quantitative","scale":{"domain":[0,40]},"axis":{"values":[0,10,20,30,40],"title":"Average % cringe"}},"color":{"field":"s","type":"nominal","scale":{"domain":["b","o","y","g"],"range":["#5B9BD5","#ED7D31","#FFC000","#A5A5A5"]}}},"layer":[{"data":{"name":"main"},"transform":[{"filter":"datum.p==3"}],"mark":"line"},{"data":{"name":"tnte"},"mark":"line"}]},
{"title":{"text":["Inx3 RNAi Stock","HM05245"]},"width":210,"height":135,"encoding":{"x":{"field":"t","type":"quantitative","scale":{"domain":[0,15]},"axis":{"values":[0,5,10,15],"title":"Time (sec)"}},"y":{"field":"v","type":"quantitative","scale":{"domain":[0,40]},"axis":{"values":[0,10,20,30,40],"title":"Average % cringe"}},"color":{"field":"s","type":"nominal","scale":{"domain":["b","o","y","g"],"range":["#5B9BD5","#ED7D31","#FFC000","#A5A5A5"]}}},"layer":[{"data":{"name":"main"},"transform":[{"filter":"datum.p==4"}],"mark":"line"},{"data":{"name":"tnte"},"mark":"line"}]}
],"spacing":47},
{"hconcat":[
{"title":{"text":["Inx4 (Zpg) RNAi","Stock GL00447"]},"width":210,"height":135,"encoding":{"x":{"field":"t","type":"quantitative","scale":{"domain":[0,15]},"axis":{"values":[0,5,10,15],"title":"Time (sec)"}},"y":{"field":"v","type":"quantitative","scale":{"domain":[0,40]},"axis":{"values":[0,10,20,30,40],"title":"Average % cringe"}},"color":{"field":"s","type":"nominal","scale":{"domain":["b","o","y","g"],"range":["#5B9BD5","#ED7D31","#FFC000","#A5A5A5"]}}},"layer":[{"data":{"name":"main"},"transform":[{"filter":"datum.p==5"}],"mark":"line"},{"data":{"name":"tnte"},"mark":"line"}]},
{"title":{"text":["Inx4 (Zpg) RNAi","Stock JF02753"]},"width":210,"height":135,"encoding":{"x":{"field":"t","type":"quantitative","scale":{"domain":[0,15]},"axis":{"values":[0,5,10,15],"title":"Time (sec)"}},"y":{"field":"v","type":"quantitative","scale":{"domain":[0,40]},"axis":{"values":[0,10,20,30,40],"title":"Average % cringe"}},"color":{"field":"s","type":"nominal","scale":{"domain":["b","o","y","g"],"range":["#5B9BD5","#ED7D31","#FFC000","#A5A5A5"]}}},"layer":[{"data":{"name":"main"},"transform":[{"filter":"datum.p==6"}],"mark":"line"},{"data":{"name":"tnte"},"mark":"line"}]},
{"title":{"text":["Inx5 RNAi Stock","JF02877"]},"width":210,"height":135,"encoding":{"x":{"field":"t","type":"quantitative","scale":{"domain":[0,15]},"axis":{"values":[0,5,10,15],"title":"Time (sec)"}},"y":{"field":"v","type":"quantitative","scale":{"domain":[0,40]},"axis":{"values":[0,10,20,30,40],"title":"Average % cringe"}},"color":{"field":"s","type":"nominal","scale":{"domain":["b","o","y","g"],"range":["#5B9BD5","#ED7D31","#FFC000","#A5A5A5"]}}},"layer":[{"data":{"name":"main"},"transform":[{"filter":"datum.p==7"}],"mark":"line"},{"data":{"name":"tnte"},"mark":"line"}]},
{"title":{"text":["Inx5 RNAi Stock","KK103391"]},"width":210,"height":135,"encoding":{"x":{"field":"t","type":"quantitative","scale":{"domain":[0,15]},"axis":{"values":[0,5,10,15],"title":"Time (sec)"}},"y":{"field":"v","type":"quantitative","scale":{"domain":[0,40]},"axis":{"values":[0,10,20,30,40],"title":"Average % cringe"}},"color":{"field":"s","type":"nominal","scale":{"domain":["b","o","y","g"],"range":["#5B9BD5","#ED7D31","#FFC000","#A5A5A5"]}}},"layer":[{"data":{"name":"main"},"transform":[{"filter":"datum.p==8"}],"mark":"line"},{"data":{"name":"tnte"},"mark":"line"}]}
],"spacing":47},
{"hconcat":[
{"title":{"text":["Inx6 RNAi Stock","JF02168"]},"width":210,"height":135,"encoding":{"x":{"field":"t","type":"quantitative","scale":{"domain":[0,15]},"axis":{"values":[0,5,10,15],"title":"Time (sec)"}},"y":{"field":"v","type":"quantitative","scale":{"domain":[0,40]},"axis":{"values":[0,10,20,30,40],"title":"Average % cringe"}},"color":{"field":"s","type":"nominal","scale":{"domain":["b","o","y","g"],"range":["#5B9BD5","#ED7D31","#FFC000","#A5A5A5"]}}},"layer":[{"data":{"name":"main"},"transform":[{"filter":"datum.p==9"}],"mark":"line"},{"data":{"name":"tnte"},"mark":"line"}]},
{"title":{"text":["Inx6 RNAi Stock","GD3692"]},"width":210,"height":135,"encoding":{"x":{"field":"t","type":"quantitative","scale":{"domain":[0,15]},"axis":{"values":[0,5,10,15],"title":"Time (sec)"}},"y":{"field":"v","type":"quantitative","scale":{"domain":[0,40]},"axis":{"values":[0,10,20,30,40],"title":"Average % cringe"}},"color":{"field":"s","type":"nominal","scale":{"domain":["b","o","y","g"],"range":["#5B9BD5","#ED7D31","#FFC000","#A5A5A5"]}}},"layer":[{"data":{"name":"main"},"transform":[{"filter":"datum.p==10"}],"mark":"line"},{"data":{"name":"tnte"},"mark":"line"}]},
{"title":{"text":["Inx7 RNAi Stock","JF02066"]},"width":210,"height":135,"encoding":{"x":{"field":"t","type":"quantitative","scale":{"domain":[0,15]},"axis":{"values":[0,5,10,15],"title":"Time (sec)"}},"y":{"field":"v","type":"quantitative","scale":{"domain":[0,40]},"axis":{"values":[0,10,20,30,40],"title":"Average % cringe"}},"color":{"field":"s","type":"nominal","scale":{"domain":["b","o","y","g"],"range":["#5B9BD5","#ED7D31","#FFC000","#A5A5A5"]}}},"layer":[{"data":{"name":"main"},"transform":[{"filter":"datum.p==11"}],"mark":"line"},{"data":{"name":"tnte"},"mark":"line"}]},
{"title":{"text":["Inx7 RNAi Stock","KK112684"]},"width":210,"height":135,"encoding":{"x":{"field":"t","type":"quantitative","scale":{"domain":[0,15]},"axis":{"values":[0,5,10,15],"title":"Time (sec)"}},"y":{"field":"v","type":"quantitative","scale":{"domain":[0,40]},"axis":{"values":[0,10,20,30,40],"title":"Average % cringe"}},"color":{"field":"s","type":"nominal","scale":{"domain":["b","o","y","g"],"range":["#5B9BD5","#ED7D31","#FFC000","#A5A5A5"]}}},"layer":[{"data":{"name":"main"},"transform":[{"filter":"datum.p==12"}],"mark":"line"},{"data":{"name":"tnte"},"mark":"line"}]}
],"spacing":47},
{"hconcat":[
{"title":{"text":["Inx8 (ShakB) RNAi","Stock JF02603"]},"width":210,"height":135,"encoding":{"x":{"field":"t","type":"quantitative","scale":{"domain":[0,15]},"axis":{"values":[0,5,10,15],"title":"Time (sec)"}},"y":{"field":"v","type":"quantitative","scale":{"domain":[0,40]},"axis":{"values":[0,10,20,30,40],"title":"Average % cringe"}},"color":{"field":"s","type":"nominal","scale":{"domain":["b","o","y","g"],"range":["#5B9BD5","#ED7D31","#FFC000","#A5A5A5"]}}},"layer":[{"data":{"name":"main"},"transform":[{"filter":"datum.p==13"}],"mark":"line"},{"data":{"name":"tnte"},"mark":"line"}]},
{"title":{"text":["Inx8 (ShakB) RNAi","Stock GD7794"]},"width":210,"height":135,"encoding":{"x":{"field":"t","type":"quantitative","scale":{"domain":[0,15]},"axis":{"values":[0,5,10,15],"title":"Time (sec)"}},"y":{"field":"v","type":"quantitative","scale":{"domain":[0,40]},"axis":{"values":[0,10,20,30,40],"title":"Average % cringe"}},"color":{"field":"s","type":"nominal","scale":{"domain":["b","o","y","g"],"range":["#5B9BD5","#ED7D31","#FFC000","#A5A5A5"]}}},"layer":[{"data":{"name":"main"},"transform":[{"filter":"datum.p==14"}],"mark":"line"},{"data":{"name":"tnte"},"mark":"line"}]}
],"spacing":98}
],
"spacing":36,
"center":true,
"config":{
"view":{"stroke":null},
"font":"Liberation Serif",
"line":{"strokeWidth":1.5},
"axis":{"grid":false,"ticks":false,"tickSize":0,"labelFont":"Liberation Serif","labelFontSize":18,"labelColor":"#595959","labelPadding":14,"titleFont":"Liberation Serif","titleFontSize":18.5,"titleFontWeight":"normal","titleColor":"#595959","titlePadding":7,"domainColor":"#D0D0D0","domainWidth":2},
"axisX":{"labelPadding":14,"titlePadding":12},
"title":{"font":"Liberation Serif","fontSize":26,"fontWeight":"bold","color":"#595959","lineHeight":30,"frame":"bounds","anchor":"middle","offset":25}
}
}
